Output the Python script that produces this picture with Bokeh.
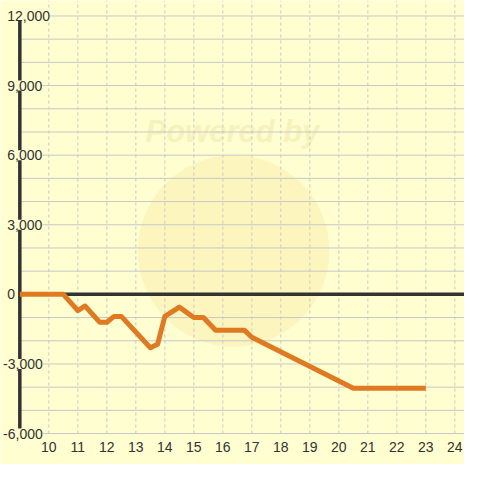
from bokeh.plotting import figure
from bokeh.models import Range1d, ColumnDataSource, LabelSet
from bokeh.core.properties import value
from bokeh.embed import file_html
from bokeh.resources import INLINE

# ---- data ----
hours = [9, 10.5, 11.0, 11.25, 11.75, 12.0, 12.25, 12.5, 13.5, 13.75, 14.0,
         14.5, 15.0, 15.33, 15.75, 16.75, 17.0, 20.5, 23.0]
balance = [0, 0, -700, -500, -1200, -1200, -950, -950, -2300, -2150, -950,
           -550, -1000, -1000, -1550, -1550, -1850, -4050, -4050]

x_ticks = list(range(10, 25))
x_tick_labels = [str(t) for t in x_ticks]
y_ticks = [-6000, -3000, 0, 3000, 6000, 9000, 12000]
y_tick_labels = ["-6,000", "-3,000", "0", "3,000", "6,000", "9,000", "12,000"]
y_grid = list(range(-6000, 12001, 1000))

BG = "#FEFED0"
FONT = "Liberation Sans"

X0, X1 = 8.3333, 24.3333
Y0, Y1 = -7333.3, 12666.7
XAXIS = 9

p = figure(width=464, height=464, output_backend="svg", toolbar_location=None,
           x_range=Range1d(X0, X1), y_range=Range1d(Y0, Y1),
           min_border=0, x_axis_type=None, y_axis_type=None)
p.background_fill_color = BG
p.border_fill_color = BG
p.outline_line_color = None
p.grid.visible = False

# watermark
p.ellipse(x=[16.37], y=[1875], width=6.6, height=8250,
          fill_color="#FAF0B4", fill_alpha=0.65, line_color=None)
p.text(x=[13.333], y=[7000], text=["Powered by"], text_font=value(FONT),
       text_font_size="31px", text_font_style="bold italic",
       text_color="#F3EAAE", text_alpha=0.6, text_baseline="middle", text_align="left")

# horizontal grid
p.segment(x0=[XAXIS] * len(y_grid), y0=y_grid, x1=[X1] * len(y_grid), y1=y_grid,
          line_color="#C8C8C8", line_width=1)
# vertical dashed grid
p.segment(x0=x_ticks, y0=[-6000] * len(x_ticks), x1=x_ticks, y1=[Y1] * len(x_ticks),
          line_color="#C8C8C8", line_width=1, line_dash="3 3")

# zero line
p.segment(x0=[XAXIS], y0=[0], x1=[X1], y1=[0], line_color="#333333", line_width=3.5)
# y axis line
p.segment(x0=[XAXIS], y0=[-6000], x1=[XAXIS], y1=[12000], line_color="#333333", line_width=3.5)

# data line
p.line(hours, balance, line_color="#E07A22", line_width=5, line_join="round", line_cap="butt")

# x tick labels
p.text(x=x_ticks, y=[-6583] * len(x_ticks), text=x_tick_labels, text_font=value(FONT),
       text_font_size="14px", text_color="#333333", text_align="center", text_baseline="middle")

# y tick labels with background
ysrc = ColumnDataSource(dict(
    x=[8.5667 if v >= 0 else 8.4233 for v in y_ticks],
    y=y_ticks,
    t=y_tick_labels,
))
p.add_layout(LabelSet(x="x", y="y", text="t", source=ysrc, text_font=value(FONT),
                      text_font_size="14px", text_color="#333333",
                      text_align="left", text_baseline="middle",
                      background_fill_color=BG))

open("out.html", "w").write(file_html(p, INLINE))
